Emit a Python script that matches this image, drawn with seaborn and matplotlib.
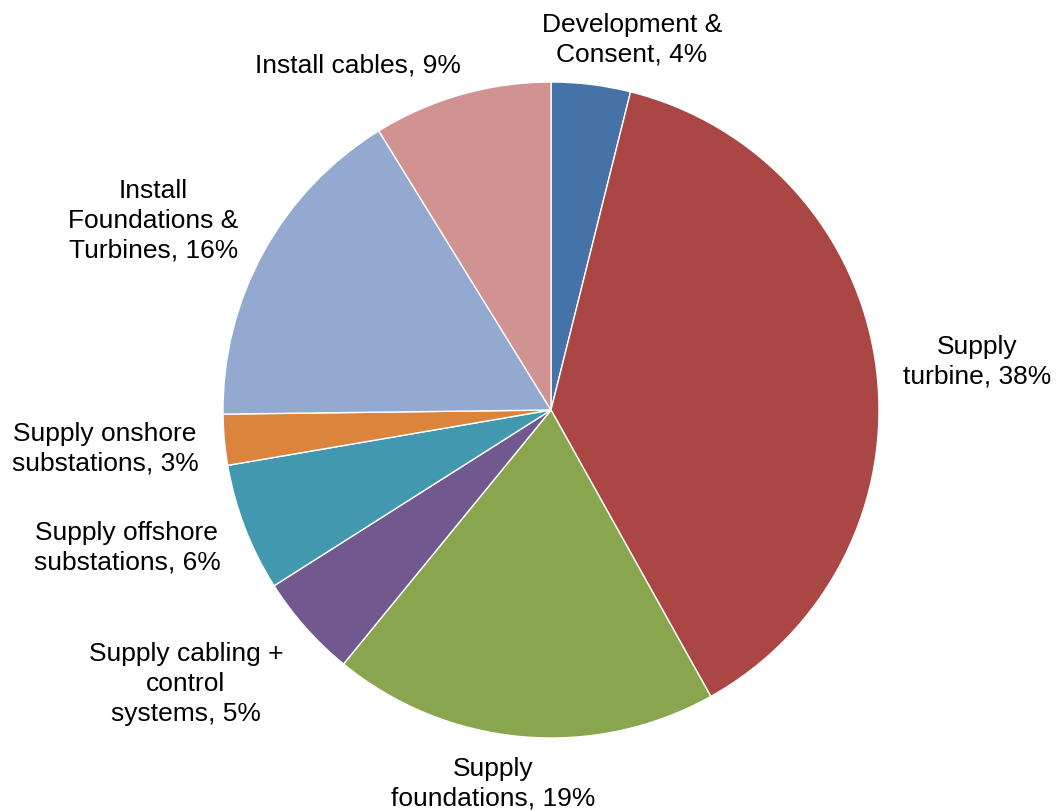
import matplotlib
matplotlib.use("Agg")
import matplotlib.pyplot as plt
import seaborn as sns
import numpy as np

sns.set_theme(style="white")
plt.rcParams['font.family'] = ['Liberation Sans', 'DejaVu Sans']

# Data
categories = ["Development &\nConsent, 4%", "Supply\nturbine, 38%", "Supply\nfoundations, 19%",
              "Supply cabling +\ncontrol\nsystems, 5%", "Supply offshore\nsubstations, 6%",
              "Supply onshore\nsubstations, 3%", "Install\nFoundations &\nTurbines, 16%",
              "Install cables, 9%"]
values = [3.9, 38.0, 19.0, 5.1, 6.3, 2.5, 16.4, 8.8]
colors = ["#4572A7", "#AA4643", "#89A54E", "#71588F", "#4198AF", "#DB843D", "#93A9CF", "#D19392"]

# Label positions (layout, in pie-radius units)
label_pos = [(0.247, 1.128), (1.299, 0.146), (-0.177, -1.140), (-1.113, -0.835),
             (-1.293, -0.421), (-1.360, -0.119), (-1.213, 0.576), (-0.588, 1.049)]

fig = plt.figure(figsize=(10.58, 8.11), dpi=100)
ax = fig.add_axes([223/1058, (811-738)/811, 656/1058, 656/811])
wedges, texts = ax.pie(values, labels=categories, colors=colors, startangle=90, counterclock=False,
                       wedgeprops=dict(edgecolor="white", linewidth=1.0), labeldistance=1.2,
                       textprops=dict(fontsize=19, color="black", linespacing=1.3))
for t, (x, y) in zip(texts, label_pos):
    t.set_position((x, y))
    t.set_ha("center")
    t.set_va("center")
    t.set_multialignment("center")
ax.set_xlim(-1, 1)
ax.set_ylim(-1, 1)
ax.set_aspect("equal")
ax.axis("off")
fig.savefig("out.png", dpi=100)
